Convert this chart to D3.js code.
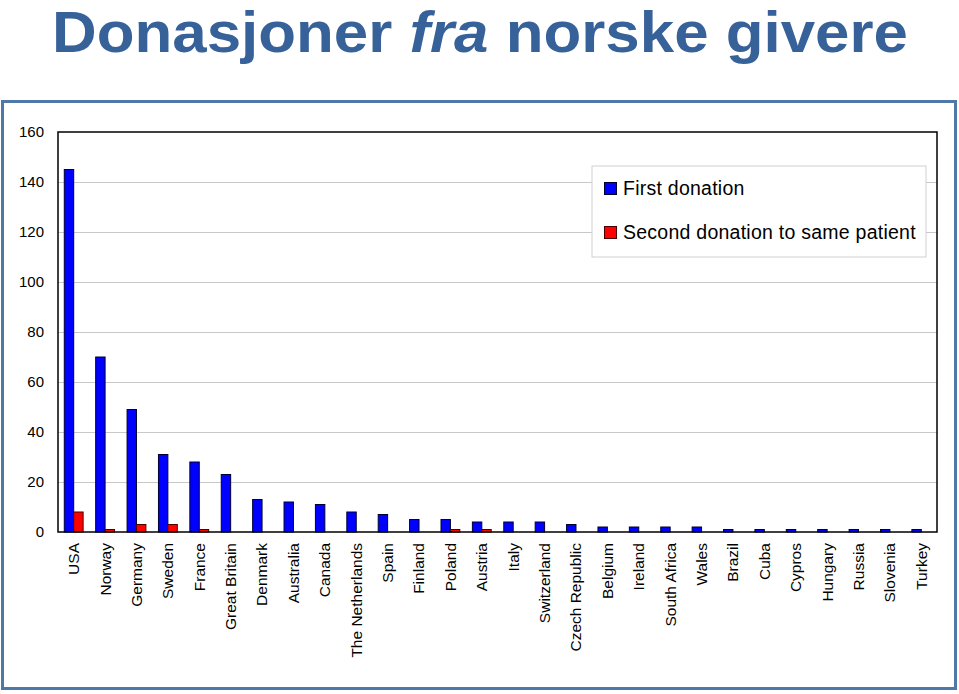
<!DOCTYPE html>
<html>
<head>
	<meta charset="utf-8">
	<script src="https://cdnjs.cloudflare.com/ajax/libs/d3/7.8.5/d3.min.js"></script>
	<style>
	body { margin: 0; background: #fff; }
	svg { display: block; font-family: "Liberation Sans", Arial, sans-serif; }
	.grid line { stroke: #c8c8c8; }
	.grid path { display: none; }
	.axis-y path, .axis-y line { display: none; }
	.axis-x path, .axis-x line { display: none; }
	</style>
</head>
<body>
	<svg width="959" height="694"></svg>
	<script>
	//data
	let countries = ["USA", "Norway", "Germany", "Sweden", "France", "Great Britain", "Denmark",
		"Australia", "Canada", "The Netherlands", "Spain", "Finland", "Poland", "Austria", "Italy",
		"Switzerland", "Czech Republic", "Belgium", "Ireland", "South Africa", "Wales", "Brazil",
		"Cuba", "Cypros", "Hungary", "Russia", "Slovenia", "Turkey"];
	let firstDonation = [145, 70, 49, 31, 28, 23, 13, 12, 11, 8, 7, 5, 5, 4, 4, 4, 3, 2, 2, 2, 2, 1, 1, 1, 1, 1, 1, 1];
	let secondDonation = [8, 1, 3, 3, 1, 0, 0, 0, 0, 0, 0, 0, 1, 1, 0, 0, 0, 0, 0, 0, 0, 0, 0, 0, 0, 0, 0, 0];
	let seriesNames = ["First donation", "Second donation to same patient"];
	let yTicks = [0, 20, 40, 60, 80, 100, 120, 140, 160];

	let svg = d3.select("svg"),
		margin = {top: 132, right: 22, bottom: 162, left: 58},
		width = svg.attr("width") - margin.left - margin.right,
		height = svg.attr("height") - margin.top - margin.bottom;

	//title
	svg.append("text")
		.attr("x", 480)
		.attr("y", 52)
		.attr("text-anchor", "middle")
		.attr("textLength", 856)
		.attr("lengthAdjust", "spacingAndGlyphs")
		.style("font-size", "57px")
		.style("font-weight", "bold")
		.style("fill", "#376199")
		.html('Donasjoner <tspan font-style="italic">fra</tspan> norske givere');

	//frame
	svg.append("rect")
		.attr("x", 2.5).attr("y", 101.5)
		.attr("width", 953).attr("height", 587)
		.attr("fill", "#fff")
		.attr("stroke", "#4f78a8")
		.attr("stroke-width", 3);

	let g = svg.append("g").attr("transform", "translate(" + margin.left + "," + margin.top + ")");

	let x0 = d3.scaleBand().domain(countries).range([0, width]).paddingInner(0.4).paddingOuter(0.2);
	let x1 = d3.scaleBand().domain([0, 1]).range([0, x0.bandwidth()]);
	let y = d3.scaleLinear().domain([0, 160]).range([height, 0]);
	let colors = ["#0000ff", "#ff0000"];
	let strokes = ["#000033", "#4a0000"];

	//gridlines
	g.append("g")
		.attr("class", "grid")
		.call(d3.axisLeft(y).tickValues(yTicks.slice(1, -1)).tickSize(-width).tickFormat(""));

	//y axis labels
	g.append("g")
		.attr("class", "axis-y")
		.call(d3.axisLeft(y).tickValues(yTicks).tickSize(0).tickPadding(14))
		.selectAll("text")
		.style("font-size", "15px")
		.style("font-family", "Liberation Sans, Arial, sans-serif")
		.attr("fill", "#000");

	//bars
	let series = [firstDonation, secondDonation];
	let grp = g.selectAll(".country")
		.data(countries)
		.enter().append("g")
		.attr("class", "country")
		.attr("transform", function(d) { return "translate(" + x0(d) + ",0)"; });

	grp.selectAll("rect")
		.data(function(d, i) { return series.map(function(s, k) { return {k: k, v: s[i]}; }).filter(function(e) { return e.v > 0; }); })
		.enter().append("rect")
		.attr("x", function(d) { return x1(d.k); })
		.attr("y", function(d) { return y(d.v); })
		.attr("width", x1.bandwidth())
		.attr("height", function(d) { return height - y(d.v); })
		.attr("fill", function(d) { return colors[d.k]; })
		.attr("stroke", function(d) { return strokes[d.k]; })
		.attr("stroke-width", 1);

	//plot border
	g.append("rect")
		.attr("width", width).attr("height", height)
		.attr("fill", "none")
		.attr("stroke", "#000")
		.attr("stroke-width", 1.5);

	//x axis labels
	g.append("g")
		.attr("class", "axis-x")
		.attr("transform", "translate(0," + height + ")")
		.call(d3.axisBottom(x0).tickSize(0).tickPadding(0))
		.selectAll("text")
		.attr("transform", "rotate(-90)")
		.attr("x", -11)
		.attr("y", 0)
		.attr("dy", "0.35em")
		.attr("text-anchor", "end")
		.style("font-size", "15.5px")
		.style("font-family", "Liberation Sans, Arial, sans-serif")
		.attr("fill", "#000");

	//legend
	let legend = g.append("g").attr("transform", "translate(" + (592 - margin.left) + "," + (166 - margin.top) + ")");
	legend.append("rect")
		.attr("width", 334).attr("height", 91)
		.attr("fill", "#fff")
		.attr("stroke", "#d0d0d0");
	seriesNames.forEach(function(name, i) {
		legend.append("rect")
			.attr("x", 12.5).attr("y", 16.5 + i * 44)
			.attr("width", 12).attr("height", 12)
			.attr("fill", colors[i])
			.attr("stroke", strokes[i]);
		legend.append("text")
			.attr("x", 31).attr("y", 29 + i * 44)
			.style("font-size", "19.5px")
			.style("letter-spacing", "0.25px")
			.text(name);
	});
	</script>
</body>
</html>
